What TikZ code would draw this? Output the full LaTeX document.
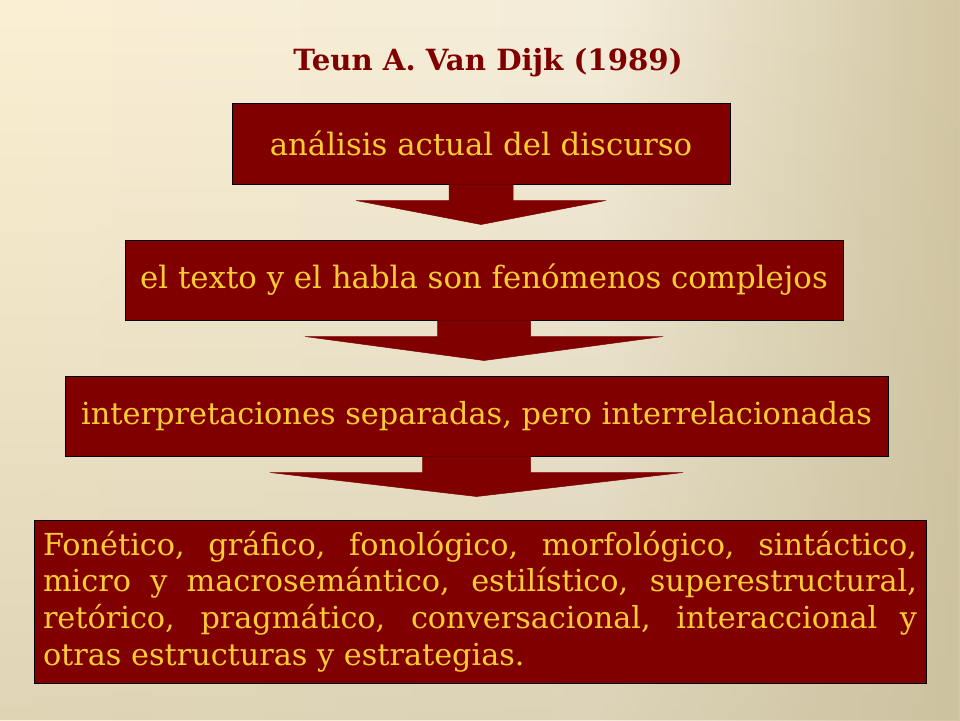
\documentclass[tikz,border=0pt]{standalone}
\usepackage{fontspec}
\setmainfont{DejaVu Serif}
\usetikzlibrary{calc,fadings}
\definecolor{boxred}{RGB}{128,0,0}
\definecolor{gold}{RGB}{255,204,51}
\definecolor{bgA}{RGB}{252,240,212}
\definecolor{bgB}{RGB}{244,237,218}
\definecolor{bgC}{RGB}{210,198,163}
\definecolor{bgD}{RGB}{200,190,156}
\tikzfading[name=bgfade, top color=transparent!100, bottom color=transparent!45]
\tikzset{
  redbox/.style={draw=black, line width=1pt, fill=boxred, text=gold, inner sep=0pt, font=\fontsize{30.8}{36}\selectfont},
  arrowshape/.style={fill=boxred, draw=boxred, line width=0.5pt},
  titletext/.style={text=boxred, font=\fontsize{29.2}{34}\selectfont\bfseries, inner sep=0pt}
}
\begin{document}
\begin{tikzpicture}[x=1pt,y=-1pt]
\useasboundingbox (0,0) rectangle (960,720);
\shade[left color=bgA, right color=bgB] (0,0) rectangle (600.5,720);
\shade[left color=bgB, right color=bgC] (600,0) rectangle (960,720);
\fill[bgD, path fading=bgfade] (0,0) rectangle (960,720);

\node[titletext] (title) at (488,63) {Teun A. Van Dijk (1989)};

\node[redbox, minimum width=498pt, minimum height=81pt] (b1) at (481,143.5) {análisis actual del discurso};
\node[redbox, minimum width=718pt, minimum height=80pt] (b2) at (484,280) {el texto y el habla son fenómenos complejos};
\node[redbox, minimum width=823pt, minimum height=80pt, font=\fontsize{30.4}{36}\selectfont] (b3) at (476.5,416) {interpretaciones separadas, pero interrelacionadas};
\node[redbox, minimum width=892pt, minimum height=163pt, text width=874pt, inner xsep=9pt, align=justify,
      font=\fontsize{30.3}{36.7}\selectfont] (b4) at (480,601.5)
  {Fonético, gráfico, fonológico, morfológico, sintáctico,\linebreak
   micro y macrosemántico, estilístico, superestructural,\linebreak
   retórico, pragmático, conversacional, interaccional y\linebreak
   otras estructuras y estrategias.};

% arrows from each box down toward the next
\fill[arrowshape] ($(b1.south)+(-32,0)$) -- ($(b1.south)+(-32,16)$) -- ($(b1.south)+(-125,16)$) -- ($(b1.south)+(0,40)$)
  -- ($(b1.south)+(125,16)$) -- ($(b1.south)+(32,16)$) -- ($(b1.south)+(32,0)$) -- cycle;
\fill[arrowshape] ($(b2.south)+(-46.5,0)$) -- ($(b2.south)+(-46.5,16)$) -- ($(b2.south)+(-179,16)$) -- ($(b2.south)+(0,40)$)
  -- ($(b2.south)+(179,16)$) -- ($(b2.south)+(46.5,16)$) -- ($(b2.south)+(46.5,0)$) -- cycle;
\fill[arrowshape] ($(b3.south)+(-54,0)$) -- ($(b3.south)+(-54,16)$) -- ($(b3.south)+(-206.5,16)$) -- ($(b3.south)+(0,40)$)
  -- ($(b3.south)+(206.5,16)$) -- ($(b3.south)+(54,16)$) -- ($(b3.south)+(54,0)$) -- cycle;
\end{tikzpicture}
\end{document}
